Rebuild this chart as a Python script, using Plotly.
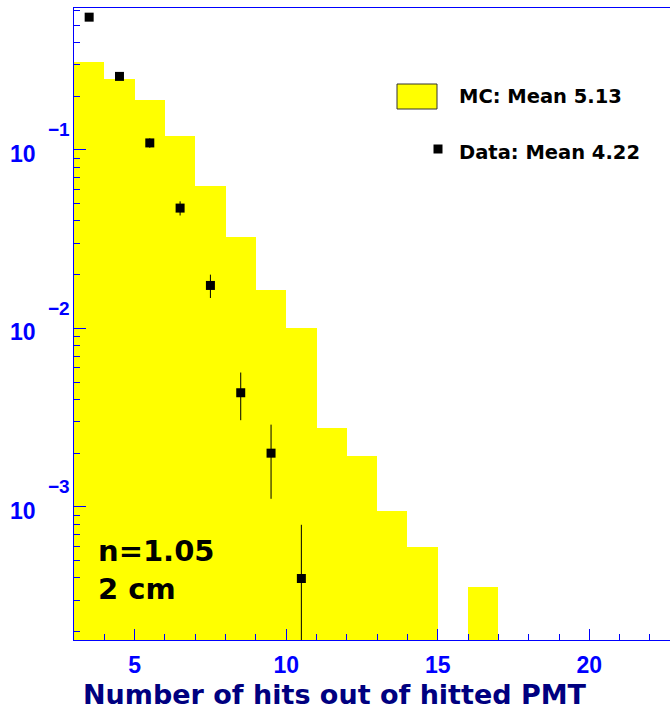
import math
import plotly.graph_objects as go

# Simulated (MC) hit-multiplicity distribution, normalised, 1-hit bins
mc_bin_centers = [3.5, 4.5, 5.5, 6.5, 7.5, 8.5, 9.5, 10.5, 11.5, 12.5, 13.5, 14.5, 15.5, 16.5]
mc_values = [0.312, 0.249, 0.191, 0.119, 0.0629, 0.0327, 0.0165, 0.0100,
             0.00275, 0.00192, 0.000953, 0.000594, 0.0, 0.000358]

# Measured distribution with statistical errors
data_bin_centers = [3.5, 4.5, 5.5, 6.5, 7.5, 8.5, 9.5, 10.5]
data_values = [0.554, 0.258, 0.1094, 0.0472, 0.0174, 0.00436, 0.00200, 0.000397]
data_errors = [0.0148, 0.0101, 0.0066, 0.0043, 0.0026, 0.0013, 0.00089, 0.000397]

# Axis ticks
x_major_ticks = [5, 10, 15, 20]
y_decades = [-3, -2, -1]

mc_label = "MC: Mean 5.13"
data_label = "Data: Mean 4.22"
x_title = "Number of hits out of hitted PMT"
info_lines = ["n=1.05", "2 cm"]

BLUE = "#0000ff"
NAVY = "#000080"
YELLOW = "#ffff00"
TICK_FONT = "Liberation Sans"
TEXT_FONT = "DejaVu Sans"

X_RANGE = [3, 22.66]
Y_RANGE = [-3.7456, -0.2052]

fig = go.Figure()

fig.add_trace(go.Bar(
    x=mc_bin_centers,
    y=[v if v > 0 else None for v in mc_values],
    width=1.0,
    marker=dict(color=YELLOW, line=dict(width=0)),
    showlegend=False,
))

fig.add_trace(go.Scatter(
    x=data_bin_centers,
    y=data_values,
    mode="markers",
    marker=dict(symbol="square", size=9, color="black"),
    error_y=dict(type="data", array=data_errors, visible=True,
                 color="black", thickness=1, width=0),
    showlegend=False,
))

y_minor = [k * 10.0 ** e for e in (-4, -3, -2, -1) for k in range(2, 10)]

fig.update_layout(
    width=670, height=712,
    margin=dict(l=74, r=0, t=8, b=72),
    paper_bgcolor="white",
    plot_bgcolor="white",
    bargap=0,
    showlegend=False,
    xaxis=dict(
        range=X_RANGE,
        showgrid=False, zeroline=False,
        showline=True, linecolor=BLUE, linewidth=1, mirror=True,
        tickvals=x_major_ticks,
        ticktext=["<b>%d</b>" % v for v in x_major_ticks],
        ticks="inside", ticklen=11, tickcolor=BLUE, tickwidth=1,
        tickfont=dict(family=TICK_FONT, size=23, color=BLUE),
        ticklabelstandoff=4,
        minor=dict(dtick=1, tick0=0, ticks="inside", ticklen=6,
                   tickcolor=BLUE, tickwidth=1, showgrid=False),
    ),
    yaxis=dict(
        type="log",
        range=Y_RANGE,
        showgrid=False, zeroline=False,
        showline=True, linecolor=BLUE, linewidth=1,
        tickvals=[10.0 ** e for e in y_decades],
        ticks="inside", ticklen=12, tickcolor=BLUE, tickwidth=1,
        showticklabels=False,
        minor=dict(tickvals=y_minor, ticks="inside", ticklen=6,
                   tickcolor=BLUE, tickwidth=1, showgrid=False),
    ),
)

# ROOT-style power-of-ten labels on the log axis
for e in y_decades:
    fig.add_annotation(
        x=0, xref="paper", y=e, yref="y",
        text="<b>10</b>", showarrow=False, xanchor="right", yanchor="middle",
        xshift=-36, yshift=-4,
        font=dict(family=TICK_FONT, size=23, color=BLUE),
    )
    fig.add_annotation(
        x=0, xref="paper", y=e, yref="y",
        text="<b>\u2212" + str(abs(e)) + "</b>", showarrow=False,
        xanchor="right", yanchor="middle",
        xshift=-2, yshift=20,
        font=dict(family=TICK_FONT, size=19, color=BLUE),
    )

def px_x(px):
    return (px - 74) / 596.0

def px_y(py):
    return (640.0 - py) / 632.0

# X-axis title
fig.add_annotation(
    x=px_x(335), xref="paper", y=px_y(694), yref="paper",
    text="<b>" + x_title + "</b>", showarrow=False, xanchor="center", yanchor="middle",
    font=dict(family=TEXT_FONT, size=27, color=NAVY),
)

# Legend
fig.add_shape(type="rect", xref="paper", yref="paper",
              x0=px_x(397), x1=px_x(437), y0=px_y(109), y1=px_y(84),
              fillcolor=YELLOW, line=dict(color="#333333", width=1))
fig.add_shape(type="rect", xref="paper", yref="paper",
              x0=px_x(433.5), x1=px_x(442.5), y0=px_y(153.5), y1=px_y(144.5),
              fillcolor="black", line=dict(width=0))
fig.add_annotation(
    x=px_x(457), xref="paper", y=px_y(97), yref="paper",
    text="<b>" + mc_label + "</b>", showarrow=False, xanchor="left", yanchor="middle",
    font=dict(family=TEXT_FONT, size=19.5, color="black"),
)
fig.add_annotation(
    x=px_x(457), xref="paper", y=px_y(152), yref="paper",
    text="<b>" + data_label + "</b>", showarrow=False, xanchor="left", yanchor="middle",
    font=dict(family=TEXT_FONT, size=19.5, color="black"),
)

# Refractive index / thickness label
fig.add_annotation(
    x=px_x(96), xref="paper", y=px_y(570), yref="paper",
    text="<br>".join("<b>%s</b>" % s for s in info_lines), showarrow=False,
    xanchor="left", yanchor="middle", align="left",
    font=dict(family=TEXT_FONT, size=29, color="black"),
)

fig.write_html("out.html")
